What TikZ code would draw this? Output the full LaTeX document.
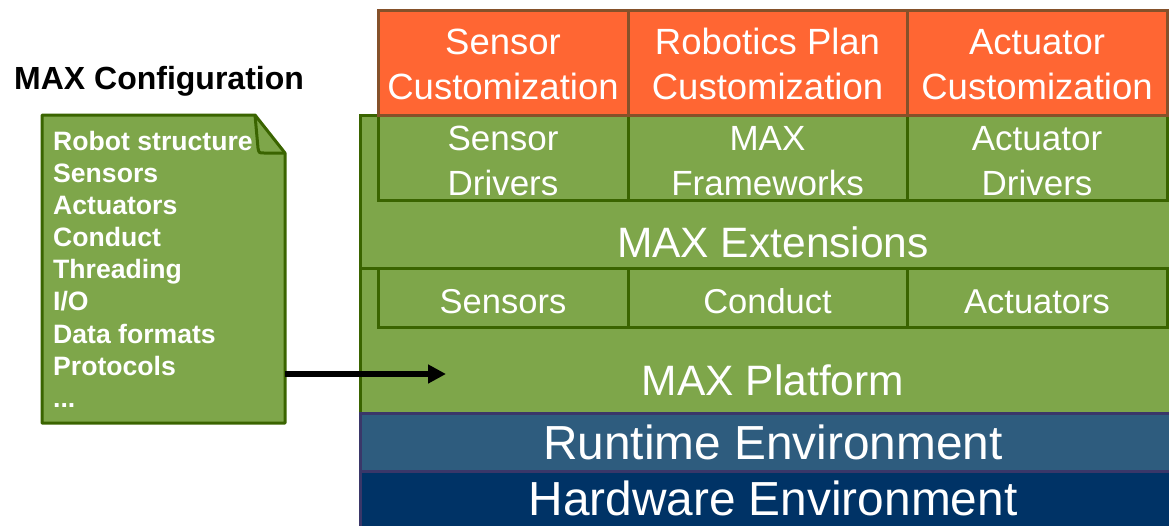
\documentclass[tikz,border=0pt]{standalone}
\usepackage{fontspec}
\setmainfont{Liberation Sans}
\usetikzlibrary{arrows.meta}

\definecolor{orangefill}{HTML}{FF6633}
\definecolor{orangeline}{HTML}{85512A}
\definecolor{greenfill}{HTML}{7EA64A}
\definecolor{greenline}{HTML}{3A6400}
\definecolor{runfill}{HTML}{2E5C7E}
\definecolor{envline}{HTML}{3A3769}
\definecolor{hwfill}{HTML}{003366}

\begin{document}
\begin{tikzpicture}[x=1pt,y=-1pt,
  box/.style={rectangle, inner sep=0pt, outer sep=0pt, anchor=north west, line width=3pt},
  greenbox/.style={box, draw=greenline, fill=greenfill},
  orangebox/.style={box, draw=orangeline, fill=orangefill},
  runbox/.style={box, draw=envline, fill=runfill},
  hwbox/.style={box, draw=envline, fill=hwfill},
  lbl/.style={text=white, inner sep=0pt, align=center},
  doctext/.style={text=white, inner sep=0pt, anchor=base west, font=\bfseries\fontsize{26.6}{30}\selectfont},
  arrowline/.style={line width=5.5pt, -{Triangle[length=18pt,width=18pt]}}
]
\useasboundingbox (0,0) rectangle (1169,525);

% ---- layered stack ----
\node[greenbox, minimum width=826pt, minimum height=153pt] (ext)  at (360,115) {};
\node[greenbox, minimum width=826pt, minimum height=145pt] (plat) at (360,268) {};
\node[runbox,   minimum width=826pt, minimum height=58pt]  (rt)   at (360,413) {};
\node[hwbox,    minimum width=826pt, minimum height=70pt]  (hw)   at (360,471) {};

% driver / framework cells
\node[greenbox, minimum width=250pt, minimum height=85pt] (sd) at (378,115) {};
\node[greenbox, minimum width=279pt, minimum height=85pt] (mf) at (628,115) {};
\node[greenbox, minimum width=260pt, minimum height=85pt] (ad) at (907,115) {};

% customization cells
\node[orangebox, minimum width=250pt, minimum height=105pt] (sc) at (378,10) {};
\node[orangebox, minimum width=279pt, minimum height=105pt] (rc) at (628,10) {};
\node[orangebox, minimum width=260pt, minimum height=105pt] (ac) at (907,10) {};

% extension cells
\node[greenbox, minimum width=250pt, minimum height=59pt] (se) at (378,268) {};
\node[greenbox, minimum width=279pt, minimum height=59pt] (co) at (628,268) {};
\node[greenbox, minimum width=260pt, minimum height=59pt] (ae) at (907,268) {};

% ---- labels ----
\begin{scope}[every node/.append style={lbl, font=\fontsize{36.5}{45}\selectfont}]
  \node (tsc) at (503,64.2)    {Sensor\\Customization};
  \node (trc) at (767.5,64.2)  {Robotics Plan\\Customization};
  \node (tac) at (1037,64.2)   {Actuator\\Customization};
\end{scope}
\begin{scope}[every node/.append style={lbl, font=\fontsize{35}{45}\selectfont}]
  \node (tsd) at (503,161)     {Sensor\\Drivers};
  \node (tmf) at (767.5,161)   {MAX\\Frameworks};
  \node (tad) at (1037,161)    {Actuator\\Drivers};
\end{scope}
\begin{scope}[every node/.append style={lbl, anchor=base, font=\fontsize{34.5}{40}\selectfont}]
  \node (tse) at (503,313)     {Sensors};
  \node (tco) at (767.5,313)   {Conduct};
  \node (tae) at (1037,313)    {Actuators};
\end{scope}
\node[lbl, anchor=base, font=\fontsize{42.5}{48}\selectfont] (text) at (773,257) {MAX Extensions};
\node[lbl, anchor=base, font=\fontsize{42.5}{48}\selectfont] (tplat) at (773,395) {MAX Platform};
\node[lbl, anchor=base, font=\fontsize{47.8}{54}\selectfont] (trt) at (773,459) {Runtime Environment};
\node[lbl, anchor=base, font=\fontsize{47.8}{54}\selectfont] (thw) at (773,515) {Hardware Environment};

% ---- configuration document ----
\node[anchor=base west, inner sep=0pt, font=\bfseries\fontsize{32}{36}\selectfont] (title) at (14,89) {MAX Configuration};

\node[box, minimum width=243pt, minimum height=308pt] (cfg) at (42,115) {};
\fill[greenfill] (cfg.north west) -- ([xshift=-30pt]cfg.north east) -- ([yshift=-38pt]cfg.north east)
  -- (cfg.south east) -- (cfg.south west) -- cycle;
\draw[greenline, line width=3pt, line join=round]
  (cfg.north west) -- ([xshift=-30pt]cfg.north east) -- ([yshift=-38pt]cfg.north east)
  -- (cfg.south east) -- (cfg.south west) -- cycle;
\draw[greenline, line width=3pt, line join=round]
  ([xshift=-30pt]cfg.north east) -- ([xshift=-27pt,yshift=-33pt]cfg.north east)
  .. controls ([xshift=-26pt,yshift=-38pt]cfg.north east) .. ([xshift=-21pt,yshift=-38pt]cfg.north east)
  -- ([yshift=-38pt]cfg.north east);

\foreach \t [count=\i from 0] in {Robot structure,Sensors,Actuators,Conduct,Threading,I/O,Data formats,Protocols}
  \node[doctext] (line\i) at (53,150.7+32.05*\i) {\t};
\node[doctext] (line8) at (53,407.1) {...};

% ---- configuration feeds the platform ----
\coordinate (tip) at (446,374);
\draw[arrowline] (cfg.east |- tip) -- (tip);
\end{tikzpicture}
\end{document}
